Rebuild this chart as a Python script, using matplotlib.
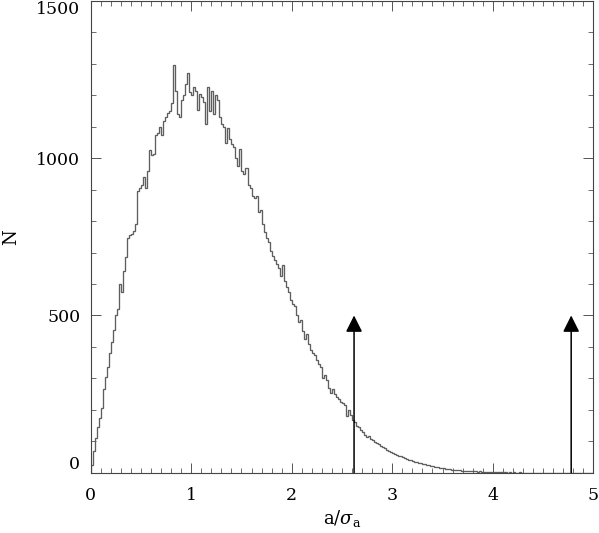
import numpy as np
import matplotlib
matplotlib.use('Agg')
import matplotlib.pyplot as plt
from matplotlib.ticker import MultipleLocator

# histogram of a/sigma_a, bin width 0.02 from 0 to 5
bin_width = 0.02
counts = [
    25, 70, 110, 145, 175, 205, 265, 305, 335, 380,           # 0.00 - 0.18
    415, 455, 500, 520, 600, 575, 640, 685, 745, 755,         # 0.20 - 0.38
    760, 770, 790, 895, 905, 915, 940, 905, 960, 1025,        # 0.40 - 0.58
    1010, 1015, 1075, 1080, 1100, 1075, 1120, 1130, 1145, 1150,  # 0.60 - 0.78
    1175, 1295, 1215, 1140, 1130, 1185, 1200, 1235, 1270, 1210,  # 0.80 - 0.98
    1200, 1225, 1215, 1155, 1205, 1195, 1180, 1110, 1225, 1150,  # 1.00 - 1.18
    1215, 1140, 1200, 1185, 1130, 1110, 1100, 1050, 1095, 1060,  # 1.20 - 1.38
    1045, 1035, 1000, 975, 1030, 960, 950, 970, 915, 905,     # 1.40 - 1.58
    880, 875, 880, 830, 835, 790, 765, 745, 735, 705,         # 1.60 - 1.78
    690, 675, 665, 650, 625, 660, 610, 590, 575, 550,         # 1.80 - 1.98
    535, 530, 500, 480, 485, 450, 425, 440, 410, 390,         # 2.00 - 2.18
    380, 375, 360, 345, 335, 300, 310, 295, 270, 255,         # 2.20 - 2.38
    265, 250, 240, 235, 225, 222, 215, 180, 200, 185,         # 2.40 - 2.58
    168, 160, 150, 145, 135, 130, 120, 112, 116, 108,         # 2.60 - 2.78
    104, 98, 93, 90, 86, 83, 78, 72, 68, 65,                  # 2.80 - 2.98
    62, 58, 56, 54, 52, 50, 46, 43, 40, 39,                   # 3.00 - 3.18
    37, 35, 34, 32, 31, 29, 27, 25, 24, 22,                   # 3.20 - 3.38
    21, 19, 18, 16, 15, 14, 13, 12, 11, 10,                   # 3.40 - 3.58
    10, 9, 9, 8, 7, 7, 6, 6, 5, 5,                            # 3.60 - 3.78
    4, 4, 3, 4, 3, 3, 2, 3, 2, 2,                             # 3.80 - 3.98
    2, 1, 2, 1, 1, 1, 1, 0, 1, 0,                             # 4.00 - 4.18
    1, 0, 0, 1, 0, 0, 0, 0, 0, 0,                             # 4.20 - 4.38
    0, 0, 0, 0, 0, 0, 0, 0, 0, 0,                             # 4.40 - 4.58
    0, 0, 0, 0, 0, 0, 0, 0, 0, 0,                             # 4.60 - 4.78
    0, 0, 0, 0, 0, 0, 0, 0, 0, 0,                             # 4.80 - 4.98
]

# arrow markers
arrow_x = [2.62, 4.78]
arrow_top = 500

y_ticks = [0, 500, 1000, 1500]

plt.rcParams['font.family'] = ['DejaVu Serif']
plt.rcParams['mathtext.fontset'] = 'dejavuserif'

fig = plt.figure(figsize=(5.99, 5.33), dpi=100)
ax = fig.add_axes([0.1514, 0.1131, 0.8391, 0.8850])

edges = np.arange(len(counts) + 1) * bin_width
ax.stairs(counts, edges, color='#5e5e5e', lw=0.95)

for xa in arrow_x:
    ax.annotate('', xy=(xa, arrow_top), xytext=(xa, 0),
                arrowprops=dict(arrowstyle='-|>,head_length=1.0,head_width=0.5',
                                mutation_scale=10, color='k', lw=1.1,
                                shrinkA=0, shrinkB=0))

ax.set_xlim(0, 5)
ax.set_ylim(0, 1500)
ax.xaxis.set_major_locator(MultipleLocator(1))
ax.xaxis.set_minor_locator(MultipleLocator(0.1))
ax.set_yticks(y_ticks)
ax.yaxis.set_minor_locator(MultipleLocator(100))

ax.tick_params(which='both', direction='in', top=True, right=True,
               color='#555555', labelsize=12.5)
ax.tick_params(which='major', length=7.2, width=0.7)
ax.tick_params(which='minor', length=3.6, width=0.6)
ax.tick_params(axis='x', pad=10)
ax.tick_params(axis='y', pad=7.5)
for sp in ax.spines.values():
    sp.set_color('#444444')
    sp.set_linewidth(0.8)

# keep the end labels inside the frame, like the original
ylabels = ax.get_yticklabels()
ylabels[0].set_verticalalignment('bottom')
ylabels[-1].set_verticalalignment('top')

ax.set_xlabel(r'$\mathrm{a}/\sigma_\mathrm{a}$', fontsize=13)
ax.set_ylabel('N', fontsize=13)
ax.xaxis.set_label_coords(0.5, -0.075)
ax.yaxis.set_label_coords(-0.14, 0.5)

fig.savefig('out.png', dpi=100)
